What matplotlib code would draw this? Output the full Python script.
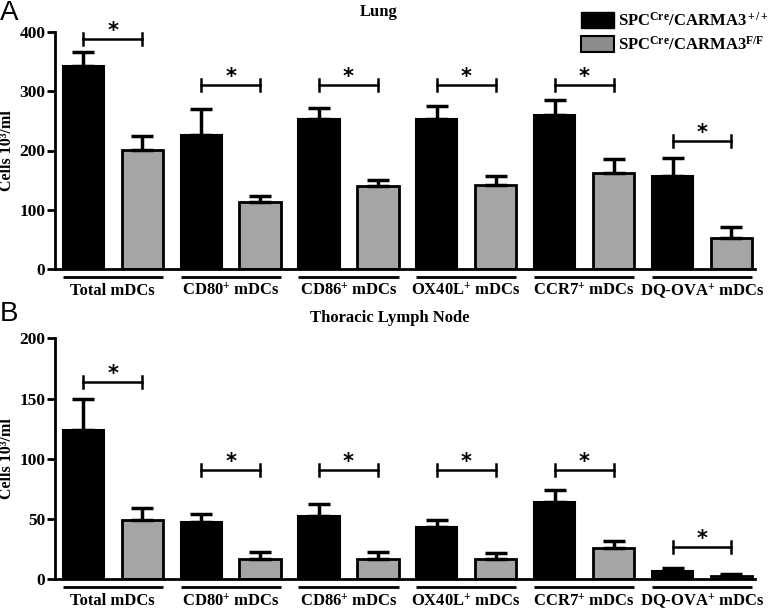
import numpy as np
import matplotlib
matplotlib.use("Agg")
import matplotlib.pyplot as plt
from matplotlib.patches import Patch
import matplotlib.transforms as mtransforms

plt.rcParams['font.family'] = ['Liberation Serif', 'DejaVu Serif']
plt.rcParams['font.weight'] = 'bold'
plt.rcParams['mathtext.fontset'] = 'custom'
plt.rcParams['mathtext.rm'] = 'Liberation Serif:bold'
plt.rcParams['mathtext.bf'] = 'Liberation Serif:bold'
plt.rcParams['mathtext.it'] = 'Liberation Serif:bold:italic'

categories = ["Total mDCs", r"CD80$^{+}$ mDCs", r"CD86$^{+}$ mDCs",
              r"OX40L$^{+}$ mDCs", r"CCR7$^{+}$ mDCs", r"DQ-OVA$^{+}$ mDCs"]
series_names = [r"SPC$^{\rm Cre}$/CARMA3$^{\rm +/+}$", r"SPC$^{\rm Cre}$/CARMA3$^{\rm F/F}$"]

lung_wt = [343, 226, 253, 254, 260, 157]
lung_wt_err = [23, 44, 18, 21, 25, 30]
lung_ko = [201, 113, 140, 141, 162, 53]
lung_ko_err = [23, 11, 11, 16, 24, 18]
lung_sig = [388, 310, 310, 310, 310, 216]

ln_wt = [124, 47.5, 52.5, 43.5, 64, 7]
ln_wt_err = [26, 7, 10, 6, 10, 2]
ln_ko = [49, 17, 17, 16.6, 25.7, 2.7]
ln_ko_err = [10, 5.5, 5.5, 5, 6, 1.4]
ln_sig = [164, 91, 91, 91, 91, 26.6]

lung_yticks = [0, 100, 200, 300, 400]
ln_yticks = [0, 50, 100, 150, 200]

W, H = 780, 610
fig = plt.figure(figsize=(7.8, 6.1), dpi=100)

def px_axes(left, right, top, bottom):
    return fig.add_axes([left / W, 1 - bottom / H, (right - left) / W, (bottom - top) / H])

axA = px_axes(55, 755, 32, 269)
axB = px_axes(55, 755, 338.3, 579.3)

GREY = '#a5a5a5'
off = 0.25
bw = 0.35

def draw(ax, wt, wte, ko, koe, sig, yticks):
    x = np.arange(len(categories))
    ax.bar(x - off, wt, bw, color='black', edgecolor='black', linewidth=1.5, zorder=2)
    ax.bar(x + off, ko, bw, color=GREY, edgecolor='black', linewidth=2, zorder=2)
    ax.errorbar(x - off, wt, yerr=[np.zeros(len(wt)), wte], fmt='none', ecolor='black',
                elinewidth=2.5, capsize=8, capthick=2.5, zorder=3)
    ax.errorbar(x + off, ko, yerr=[np.zeros(len(ko)), koe], fmt='none', ecolor='black',
                elinewidth=2.5, capsize=8, capthick=2.5, zorder=3)
    ymax = yticks[-1]
    ax.set_ylim(0, ymax)
    ax.set_xlim(-0.49, 5.45)
    ax.set_yticks(yticks)
    ax.set_yticklabels([str(t) for t in yticks], fontsize=12.5, fontweight='bold')
    ax.set_xticks([])
    for s in ['top', 'right']:
        ax.spines[s].set_visible(False)
    ax.spines['left'].set_linewidth(2)
    ax.spines['bottom'].set_linewidth(2)
    ax.tick_params(axis='y', direction='out', length=6, width=2, pad=1)
    ax.set_ylabel("Cells 10³/ml", fontsize=11.5, fontweight='bold')
    ax.yaxis.set_label_coords(-40 / 700, 0.5)
    trans = mtransforms.blended_transform_factory(ax.transData, ax.transAxes)
    h = ax.bbox.height
    for i, lab in enumerate(categories):
        ax.plot([i - off - bw / 2, i + off + bw / 2], [-8 / h, -8 / h], transform=trans,
                color='black', lw=2, clip_on=False, solid_capstyle='butt')
        ax.text(i, -22 / h, lab, transform=trans, ha='center', va='center',
                fontsize=12, fontweight='bold')
    # significance brackets
    tick = ymax * 6 / h
    for i, y in enumerate(sig):
        x0, x1 = i - off, i + off
        ax.plot([x0, x1], [y, y], color='black', lw=1.8, clip_on=False)
        ax.plot([x0, x0], [y - tick, y + tick], color='black', lw=1.8, clip_on=False)
        ax.plot([x1, x1], [y - tick, y + tick], color='black', lw=1.8, clip_on=False)
        ax.text(i, y + ymax * 8 / h, '*', ha='center', va='center', fontsize=15,
                fontweight='bold', family='DejaVu Sans')

draw(axA, lung_wt, lung_wt_err, lung_ko, lung_ko_err, lung_sig, lung_yticks)
draw(axB, ln_wt, ln_wt_err, ln_ko, ln_ko_err, ln_sig, ln_yticks)

fig.text(379 / W, 1 - 12 / H, "Lung", ha='center', va='center', fontsize=12, fontweight='bold')
fig.text(390 / W, 1 - 318 / H, "Thoracic Lymph Node", ha='center', va='center', fontsize=12,
         fontweight='bold')
fig.text(0 / W, 1 - 13 / H, "A", ha='left', va='center', fontsize=20, fontweight='normal',
         family='Liberation Sans')
fig.text(0 / W, 1 - 314 / H, "B", ha='left', va='center', fontsize=20, fontweight='normal',
         family='Liberation Sans')

handles = [Patch(facecolor='black', edgecolor='black'),
           Patch(facecolor='#8c8c8c', edgecolor='black', linewidth=1.5)]
fig.legend(handles, series_names, loc='upper right', bbox_to_anchor=(1.0, 1.0),
           frameon=False, handlelength=2.0, handleheight=1.1,
           handletextpad=0.2, labelspacing=0.4, borderaxespad=0.3,
           prop={'weight': 'bold', 'size': 12})

fig.savefig("out.png", dpi=100)
